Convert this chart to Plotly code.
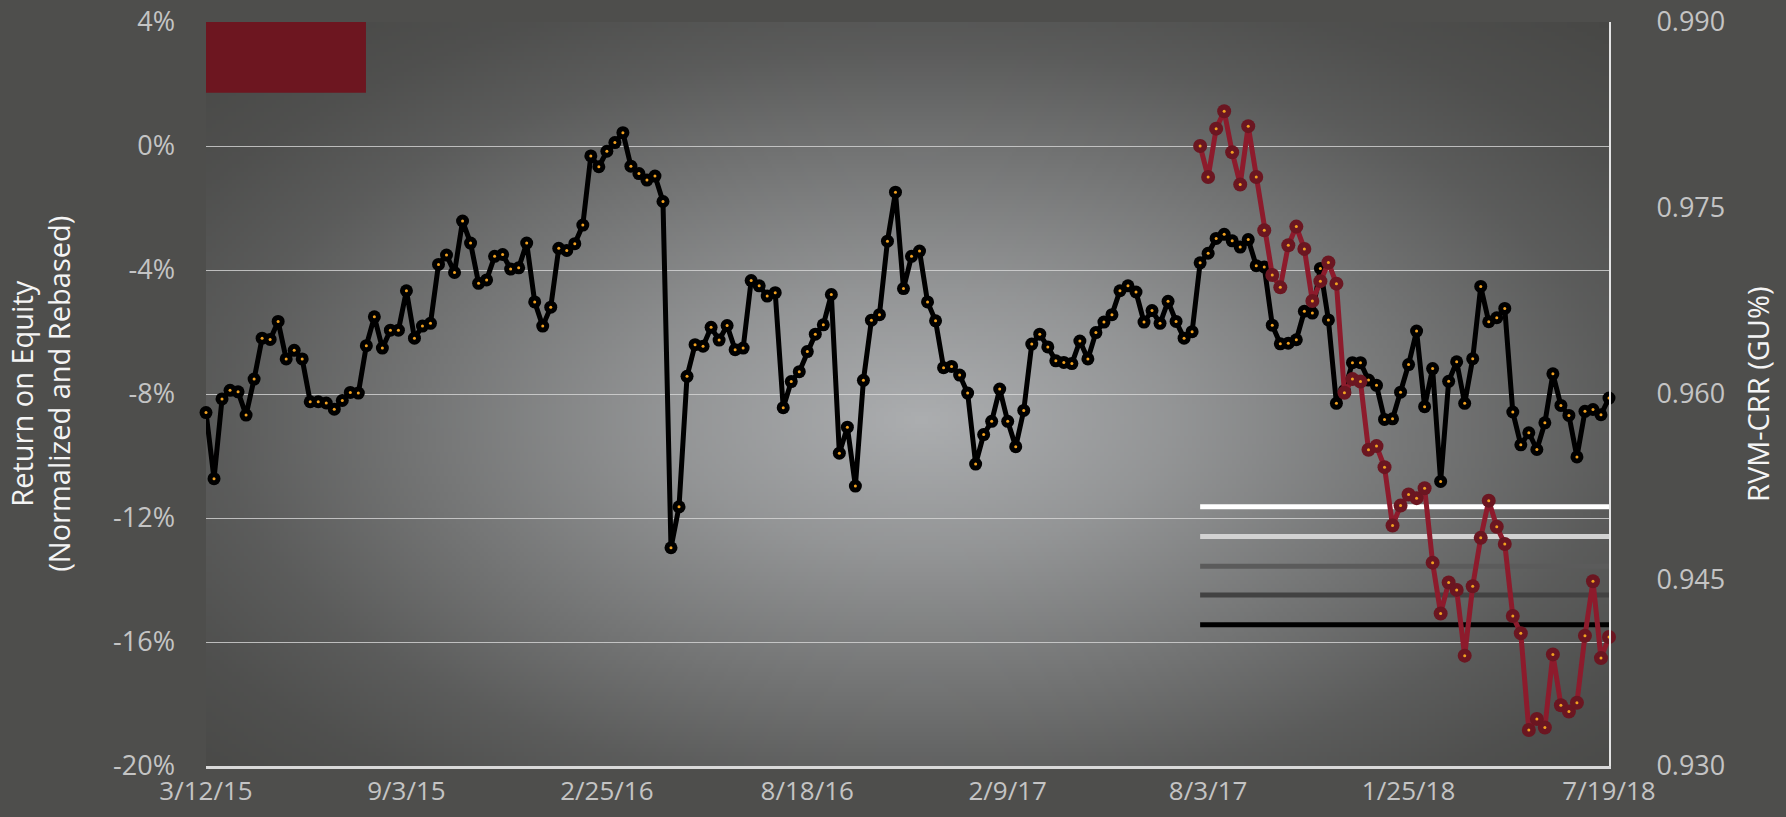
import base64
import struct
import zlib

import numpy as np
import pandas as pd
import plotly.graph_objects as go

# ---------------- data ----------------
start_date = "2015-03-12"
n_weeks = 176
dates = pd.date_range(start_date, periods=n_weeks, freq="7D")

# Return on Equity (normalized and rebased), percent - weekly
roe = [
    -8.60, -10.73, -8.16, -7.88, -7.93, -8.68, -7.52, -6.20, -6.24, -5.66,
    -6.87, -6.59, -6.87, -8.25, -8.25, -8.29, -8.49, -8.21, -7.95, -7.97,
    -6.44, -5.51, -6.52, -5.94, -5.94, -4.67, -6.20, -5.81, -5.72, -3.82,
    -3.52, -4.08, -2.42, -3.13, -4.43, -4.32, -3.56, -3.50, -3.97, -3.93,
    -3.13, -5.03, -5.81, -5.20, -3.30, -3.37, -3.15, -2.55, -0.32, -0.67,
    -0.17, 0.11, 0.43, -0.65, -0.89, -1.10, -0.97, -1.79, -12.96, -11.64,
    -7.43, -6.41, -6.46, -5.85, -6.26, -5.79, -6.57, -6.52, -4.34, -4.51,
    -4.84, -4.73, -8.44, -7.60, -7.28, -6.63, -6.07, -5.77, -4.79, -9.91,
    -9.07, -10.97, -7.56, -5.62, -5.44, -3.07, -1.49, -4.60, -3.56, -3.39,
    -5.03, -5.64, -7.15, -7.11, -7.39, -7.97, -10.26, -9.31, -8.88, -7.84,
    -8.88, -9.70, -8.53, -6.39, -6.07, -6.48, -6.93, -6.98, -7.02, -6.29,
    -6.87, -6.02, -5.68, -5.44, -4.67, -4.51, -4.71, -5.68, -5.31, -5.72,
    -5.01, -5.66, -6.20, -5.99, -3.77, -3.46, -2.98, -2.85, -3.06, -3.26,
    -3.02, -3.86, -3.90, -5.78, -6.38, -6.36, -6.25, -5.33, -5.39, -3.95,
    -5.61, -8.30, -7.89, -6.99, -6.99, -7.55, -7.72, -8.82, -8.80, -7.94,
    -7.05, -5.97, -8.41, -7.18, -10.82, -7.59, -6.96, -8.30, -6.86, -4.53,
    -5.67, -5.54, -5.24, -8.58, -9.64, -9.25, -9.79, -8.93, -7.35, -8.37,
    -8.69, -10.03, -8.56, -8.50, -8.67, -8.13,
]

# RVM-CRR (GU%) - starts at week index 124 (7/27/17)
rvm_start = 124
rvm = [
    0.9800, 0.9775, 0.9814, 0.9828, 0.9795, 0.9769, 0.9816, 0.9775, 0.9732, 0.9696,
    0.9686, 0.9720, 0.9735, 0.9717, 0.9675, 0.9691, 0.9706, 0.9689, 0.9601, 0.9612,
    0.9610, 0.9555, 0.9558, 0.9541, 0.9494, 0.9510, 0.9519, 0.9516, 0.9524, 0.9464,
    0.9423, 0.9448, 0.9442, 0.9389, 0.9445, 0.9484, 0.9514, 0.9493, 0.9479, 0.9421,
    0.9407, 0.9329, 0.9338, 0.9331, 0.9390, 0.9349, 0.9344, 0.9351, 0.9405, 0.9449,
    0.9387, 0.9404,
]

# threshold bands (right axis)
threshold_levels = [0.9509, 0.9485, 0.9461, 0.9438, 0.9414]
threshold_colors = ["#ffffff", "#d2d2d2", "#5b5b5b", "#424242", "#000000"]

x_tick_labels = ["3/12/15", "9/3/15", "2/25/16", "8/18/16", "2/9/17", "8/3/17", "1/25/18", "7/19/18"]
x_tick_step = 25
y_left_ticks = [-20, -16, -12, -8, -4, 0, 4]
y_left_labels = ["-20%", "-16%", "-12%", "-8%", "-4%", "0%", "4%"]
y_right_ticks = [0.930, 0.945, 0.960, 0.975, 0.990]
y_right_labels = ["0.930", "0.945", "0.960", "0.975", "0.990"]

# ---------------- background gradient image ----------------
def radial_png(w, h):
    xs = (np.arange(w) + 0.5) / w
    ys = (np.arange(h) + 0.5) / h
    X, Y = np.meshgrid(xs, ys)
    u = (X - 0.51) / 0.5
    v = (Y - 0.535) / 0.5
    r = np.sqrt(u * u + v * v)
    rs = [0.0, 0.36, 0.8, 1.0, 1.2, 1.5]
    gs = [174, 149, 110, 92, 80, 70]
    g = np.interp(r, rs, gs)
    t = np.clip(r / 1.45, 0, 1)
    R = np.clip(g - 2 * (1 - t), 0, 255)
    G = np.clip(g, 0, 255)
    B = np.clip(g + 2 * (1 - t) - 2 * t, 0, 255)
    img = np.stack([R, G, B], axis=-1).astype(np.uint8)
    raw = b"".join(b"\x00" + img[j].tobytes() for j in range(h))

    def chunk(tag, data):
        c = struct.pack(">I", len(data)) + tag + data
        return c + struct.pack(">I", zlib.crc32(tag + data) & 0xFFFFFFFF)

    png = b"\x89PNG\r\n\x1a\n"
    png += chunk(b"IHDR", struct.pack(">IIBBBBB", w, h, 8, 2, 0, 0, 0))
    png += chunk(b"IDAT", zlib.compress(raw, 9))
    png += chunk(b"IEND", b"")
    return "data:image/png;base64," + base64.b64encode(png).decode()


bg_src = radial_png(351, 186)

# ---------------- figure ----------------
fig = go.Figure()

rvm_dates = dates[rvm_start:rvm_start + len(rvm)]

for lvl, col in zip(threshold_levels, threshold_colors):
    fig.add_trace(go.Scatter(
        x=[rvm_dates[0], rvm_dates[-1]], y=[lvl, lvl], yaxis="y2",
        mode="lines", line=dict(color=col, width=5), hoverinfo="skip",
        showlegend=False,
    ))

fig.add_trace(go.Scatter(
    x=rvm_dates, y=rvm, yaxis="y2", mode="lines+markers",
    line=dict(color="#8d1b2c", width=5),
    marker=dict(size=14, color="#6b1621"),
    cliponaxis=False, showlegend=False, name="RVM-CRR",
))
fig.add_trace(go.Scatter(
    x=rvm_dates, y=rvm, yaxis="y2", mode="markers",
    marker=dict(size=3, color="#f2a11f"),
    cliponaxis=False, showlegend=False, hoverinfo="skip",
))

fig.add_trace(go.Scatter(
    x=dates, y=roe, mode="lines+markers",
    line=dict(color="#000000", width=5),
    marker=dict(size=13, color="#000000"),
    cliponaxis=False, showlegend=False, name="Return on Equity",
))
fig.add_trace(go.Scatter(
    x=dates, y=roe, mode="markers",
    marker=dict(size=3, color="#f2a11f"),
    cliponaxis=False, showlegend=False, hoverinfo="skip",
))

tick_font = dict(family="Open Sans", size=27, color="#c4c4c4")

fig.update_layout(
    width=1786, height=817,
    margin=dict(l=206, r=177, t=22, b=51, autoexpand=False),
    paper_bgcolor="#4e4e4c",
    plot_bgcolor="rgba(0,0,0,0)",
    showlegend=False,
    xaxis=dict(
        type="date",
        range=[dates[0], dates[-1]],
        tickvals=list(dates[::x_tick_step]),
        ticktext=x_tick_labels,
        showgrid=False, zeroline=False,
        showline=True, linecolor="#d9d9d9", linewidth=3,
        tickfont=dict(family="Open Sans", size=26, color="#c4c4c4"),
        ticks="", ticklabelstandoff=0,
    ),
    yaxis=dict(
        range=[-20, 4],
        tickvals=y_left_ticks, ticktext=y_left_labels,
        showgrid=True, gridcolor="rgba(215,215,215,0.8)", gridwidth=1.2,
        zeroline=False, showline=False,
        tickfont=tick_font, ticks="", ticklabelstandoff=30,
    ),
    yaxis2=dict(
        range=[0.930, 0.990], overlaying="y", side="right",
        tickvals=y_right_ticks, ticktext=y_right_labels,
        showgrid=False, zeroline=False,
        showline=True, linecolor="#e4e4e4", linewidth=2,
        tickfont=tick_font, ticks="", ticklabelstandoff=40,
    ),
    images=[dict(
        source=bg_src, xref="paper", yref="paper", x=0, y=1,
        sizex=1, sizey=1, sizing="stretch", xanchor="left", yanchor="top",
        layer="below",
    )],
    shapes=[dict(
        type="rect", xref="paper", yref="paper",
        x0=0, x1=0.114, y0=0.905, y1=1.0,
        fillcolor="#6d1620", line=dict(width=0), layer="above",
    )],
    annotations=[
        dict(
            text="Return on Equity<br>(Normalized and Rebased)",
            xref="paper", yref="paper", x=-0.1185, y=0.5,
            xanchor="center", yanchor="middle", textangle=-90, showarrow=False,
            font=dict(family="Open Sans", size=29, color="#f4f4f4"),
        ),
        dict(
            text="RVM-CRR (GU%)",
            xref="paper", yref="paper", x=1.1055, y=0.5,
            xanchor="center", yanchor="middle", textangle=-90, showarrow=False,
            font=dict(family="Open Sans", size=29, color="#f4f4f4"),
        ),
    ],
)

fig.write_html("out.html")
